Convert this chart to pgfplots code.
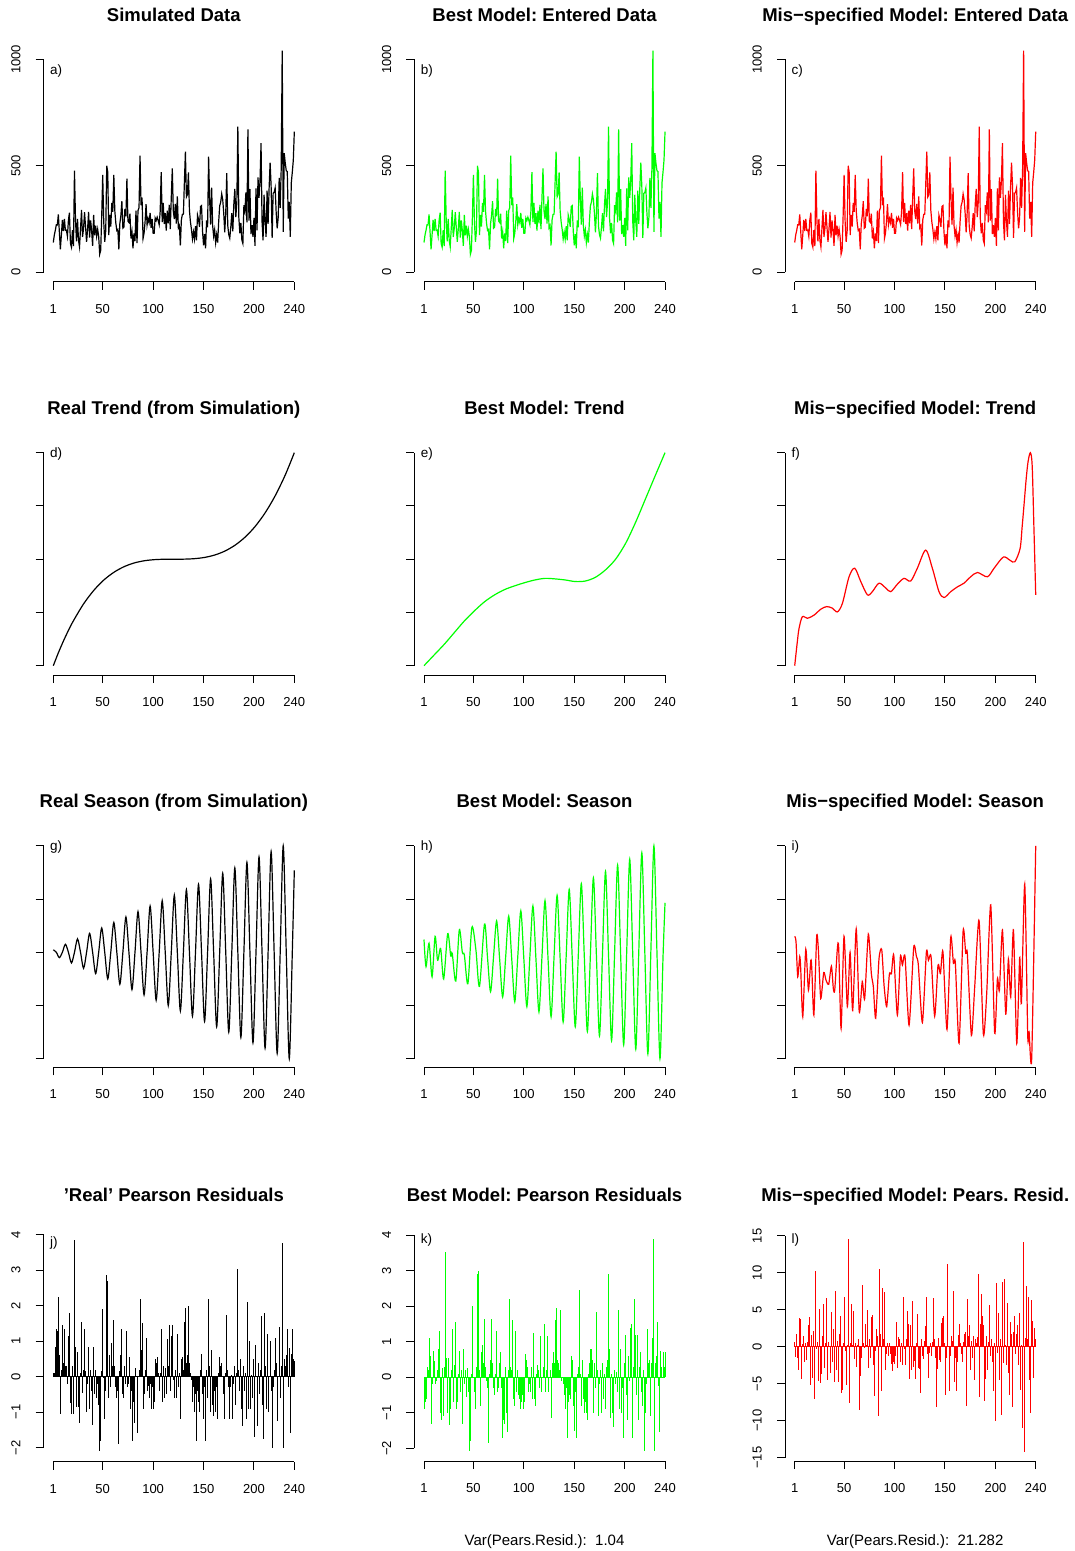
\documentclass[border=0pt]{standalone}
\usepackage{fontspec}
\setmainfont{Liberation Sans}
\usepackage{pgfplots}
\usepackage{pgfplotstable}
\pgfplotsset{compat=1.18}
\frenchspacing

\definecolor{fitgreen}{RGB}{0,255,0}
\definecolor{fitred}{RGB}{255,0,0}

% monthly counts (y) and Pearson residuals: true model (rj), best fit (rk), mis-specified fit (rl)
\pgfplotstableread{
t y rj rk rl
1 140 0.10 -0.90 0.7
2 175 0.10 -0.70 -1.4
3 197 0.85 -0.60 1.7
4 223 1.35 0.30 -1.5
5 222 1.30 0.20 -3.2
6 272 2.25 1.10 3.9
7 190 0.60 0.60 3.8
8 108 -1.05 -1.30 -4.3
9 175 0.20 -0.20 0.4
10 246 1.45 0.75 1.5
11 194 0.40 0.45 -2.0
12 251 1.35 -0.20 0.5
13 197 0.30 -0.10 -1.8
14 198 0.30 0.20 0.7
15 169 -0.20 0.80 2.9
16 245 1.15 1.30 4.0
17 280 1.80 -1.00 -5.1
18 135 -0.75 -1.20 1.6
19 118 -1.05 0.25 -4.2
20 198 0.30 -1.10 2.1
21 123 -1.05 0.30 -7.1
22 477 3.87 3.52 10.3
23 248 0.85 0.55 -0.3
24 145 -0.85 -1.00 0.6
25 251 0.70 0.55 -4.6
26 150 -0.85 -1.35 5.1
27 119 -1.30 -0.90 -4.9
28 206 0.10 0.20 -3.7
29 293 1.55 1.35 1.5
30 166 -0.45 -0.70 5.8
31 206 0.20 0.35 -2.8
32 282 1.35 1.55 0.5
33 212 0.15 -0.90 6.6
34 143 -1.00 -0.70 -4.5
35 203 -0.20 0.10 0.7
36 283 0.85 0.75 -3.6
37 163 -0.90 -0.40 4.7
38 244 0.20 0.20 -2.0
39 196 -0.40 -1.30 2.4
40 124 -1.35 0.80 -4.7
41 270 0.85 -0.20 7.5
42 174 -0.50 0.20 -3.2
43 219 0.20 -0.55 0.8
44 169 -0.60 0.25 -4.7
45 202 -0.20 -0.40 1.7
46 168 -0.80 -2.08 4.2
47 85 -2.10 -1.80 -6.2
48 103 -1.80 0.10 -5.9
49 262 0.15 2.00 0.5
50 457 1.92 0.00 6.8
51 238 -0.05 -0.40 -0.6
52 143 -1.20 -0.90 -5.1
53 194 -0.40 0.30 0.3
54 500 2.87 2.90 14.6
55 470 2.70 3.00 -7.6
56 175 -0.60 0.20 0.5
57 269 0.60 -0.80 5.8
58 215 -0.30 0.70 0.2
59 326 0.95 0.90 4.8
60 284 0.30 0.40 -1.7
61 457 1.60 1.65 0.5
62 289 0.30 0.30 -2.7
63 231 -0.30 -0.10 0.2
64 196 -0.60 -0.30 1.0
65 201 -0.40 -1.85 -8.6
66 108 -1.90 0.10 -4.0
67 229 0.15 0.50 -1.5
68 266 0.60 1.65 8.4
69 334 1.35 0.40 0.5
70 207 -0.50 -0.30 -0.2
71 212 -0.60 -0.50 3.1
72 298 0.30 0.10 0.2
73 263 -0.20 1.30 5.0
74 440 1.30 -0.40 -2.8
75 240 -0.30 -0.30 1.0
76 234 -0.20 0.40 -1.5
77 275 0.55 0.70 4.0
78 159 -0.90 -0.30 4.3
79 191 -0.40 -1.70 -2.5
80 113 -1.80 -1.20 -6.7
81 183 -0.70 -1.30 -0.5
82 147 -1.30 0.30 2.4
83 290 0.25 -1.00 1.5
84 137 -1.60 -1.55 -9.4
85 290 0.00 0.20 10.5
86 303 0.20 2.20 1.7
87 548 2.20 0.30 -6.0
88 315 0.75 0.20 8.0
89 351 1.52 1.60 1.0
90 159 -0.90 -0.60 7.4
91 183 -0.50 -0.80 -3.1
92 237 0.20 1.30 -1.0
93 320 1.10 -0.40 0.5
94 223 -0.40 0.20 -1.2
95 252 -0.25 -0.50 0.5
96 233 -0.60 -0.60 -1.0
97 279 -0.20 -0.90 -2.3
98 209 -0.90 -0.70 -3.3
99 251 -0.30 -0.50 -2.0
100 183 -0.90 -0.90 -2.3
101 183 -0.70 -0.70 -1.3
102 255 0.50 0.65 3.3
103 243 0.40 0.50 -2.8
104 259 0.55 0.30 1.3
105 243 0.10 -0.40 1.1
106 224 -0.40 -0.20 -2.1
107 287 0.10 -0.40 0.5
108 470 1.35 0.30 -2.5
109 236 -0.70 -0.60 6.7
110 326 0.30 1.25 -0.3
111 227 -0.60 -0.60 -2.5
112 278 0.25 -0.80 1.0
113 196 -0.50 0.10 4.8
114 289 1.05 0.35 3.1
115 230 0.30 0.20 -4.4
116 317 1.45 -0.30 3.0
117 203 -0.40 1.15 -3.1
118 352 1.15 -0.40 6.2
119 488 1.45 0.30 -2.7
120 288 -0.10 1.50 -1.9
121 250 -0.60 -0.40 -4.3
122 321 0.20 0.20 0.5
123 229 -0.60 1.15 4.5
124 356 1.20 -0.40 -2.8
125 209 -0.30 0.00 -3.0
126 219 0.10 0.20 -6.2
127 126 -1.20 -1.15 1.0
128 246 0.50 0.40 -1.2
129 272 0.55 0.70 -1.7
130 273 0.20 0.40 0.8
131 423 1.55 1.60 2.8
132 566 1.95 1.95 6.8
133 354 0.40 0.50 -1.0
134 365 0.60 0.40 -4.2
135 469 2.00 0.20 -0.8
136 290 0.40 1.90 0.5
137 236 0.10 -0.10 -1.2
138 202 -0.10 0.00 0.7
139 156 -0.70 -0.20 6.6
140 189 -0.30 -0.50 1.0
141 156 -1.00 -0.90 -1.5
142 217 -0.50 -0.30 -8.2
143 150 -1.80 -1.70 -3.0
144 269 -0.40 -0.70 1.2
145 249 -0.70 -0.50 -1.8
146 213 -1.00 -0.60 -2.1
147 309 0.20 0.60 3.2
148 313 0.65 0.50 3.9
149 192 -0.50 -0.80 4.2
150 127 -1.20 -1.50 0.5
151 179 -0.30 -0.40 -6.5
152 113 -1.80 -1.70 -1.5
153 244 0.20 0.10 11.2
154 211 -0.60 0.30 -6.0
155 543 2.20 2.45 -1.3
156 346 0.30 0.10 1.5
157 224 -1.00 -0.80 0.8
158 398 0.75 0.50 7.5
159 220 -0.80 -0.60 -4.8
160 170 -1.10 -1.00 -1.5
161 200 -0.40 -0.70 -6.0
162 139 -1.00 -1.00 -2.1
163 177 -0.30 -1.20 1.6
164 140 -1.20 0.10 3.1
165 238 0.10 0.40 0.5
166 312 0.55 0.80 -1.0
167 329 0.30 0.80 -2.0
168 368 0.40 0.50 0.6
169 341 0.00 -1.00 1.8
170 278 -0.50 0.40 2.0
171 188 -1.20 -0.30 -8.0
172 278 0.10 1.85 6.5
173 465 1.75 0.20 1.5
174 219 0.20 -1.10 3.0
175 177 -0.30 -0.20 -3.1
176 160 -1.20 0.20 0.8
177 212 -0.30 -1.00 -1.5
178 278 0.05 0.40 1.5
179 192 -1.20 -0.60 -4.5
180 319 -0.20 0.10 1.0
181 391 0.30 -0.90 0.5
182 259 -0.80 0.30 1.3
183 329 0.10 0.50 9.8
184 684 3.05 2.90 -6.8
185 255 0.20 0.80 3.1
186 183 -0.40 -1.15 7.1
187 232 0.50 0.10 4.2
188 151 -0.90 -1.00 3.0
189 135 -1.40 -1.40 -7.3
190 315 0.30 0.20 -4.3
191 288 -0.40 -0.20 1.5
192 375 0.10 0.15 -3.2
193 235 -1.20 -0.40 0.7
194 671 2.10 1.90 5.7
195 243 -0.90 -0.90 -1.2
196 391 1.00 0.80 1.0
197 179 -0.90 -1.00 -2.0
198 221 0.05 -0.30 -6.0
199 167 -0.60 -1.70 0.5
200 255 0.50 0.40 -10.0
201 124 -1.70 1.20 8.6
202 394 0.90 -0.50 -0.8
203 197 -1.40 -1.20 4.6
204 446 0.40 0.60 -4.5
205 350 -0.50 -0.10 1.0
206 431 0.20 1.40 -9.2
207 606 1.70 1.50 8.8
208 238 -0.80 -1.70 -2.2
209 150 -1.75 0.30 9.2
210 364 1.80 2.20 0.3
211 239 0.30 1.20 -2.5
212 167 -0.90 -0.50 5.9
213 383 1.20 1.20 -3.5
214 228 -1.00 -1.20 -6.5
215 394 0.00 0.30 3.3
216 515 1.00 0.70 1.8
217 405 -0.40 -0.40 -8.2
218 162 -2.00 -0.80 2.0
219 371 -0.30 0.20 4.2
220 375 0.20 -2.08 -1.0
221 396 1.10 -1.00 1.8
222 282 0.40 -0.20 3.0
223 206 -1.25 1.35 -2.5
224 256 0.00 0.40 4.6
225 443 1.40 0.50 -5.8
226 303 -0.60 -1.10 0.3
227 488 0.30 0.40 -11.0
228 1041 3.77 1.10 14.2
229 190 -2.00 3.90 -14.2
230 559 0.50 -2.08 1.2
231 513 0.30 0.40 8.3
232 477 0.60 0.60 1.0
233 473 1.35 1.55 6.7
234 252 -0.30 -0.25 -4.5
235 330 0.80 -1.55 -9.0
236 167 -1.60 0.75 6.3
237 420 0.65 0.30 3.5
238 470 1.35 0.70 -4.2
239 527 0.50 0.30 2.6
240 660 0.45 0.70 1.1
}\obs

% trend and season components, scaled so that each runs over ticks 0..4
\pgfplotstableread{
t u
1 0
6 0.241
11 0.461
16 0.663
21 0.845
31 1.160
41 1.411
51 1.607
61 1.753
71 1.858
81 1.928
91 1.970
101 1.991
111 1.999
121 2.000
131 2.001
141 2.010
151 2.033
161 2.078
171 2.151
181 2.260
191 2.411
201 2.611
211 2.869
221 3.190
231 3.581
240 4.000
}\trendreal

\pgfplotstableread{
t u
1 0
11 0.20
21 0.40
31 0.62
41 0.84
51 1.03
61 1.20
71 1.33
81 1.43
91 1.50
101 1.56
111 1.61
121 1.64
131 1.63
141 1.61
151 1.58
161 1.59
171 1.66
181 1.80
191 2.00
201 2.30
211 2.70
221 3.15
231 3.60
240 4.00
}\trendbest

\pgfplotstableread{
t u
1 0
3.6 0.45
5.3 0.70
8.6 0.92
13.6 0.89
20.2 0.95
26.8 1.06
32.7 1.11
38.4 1.08
43.3 1.01
48.3 1.17
54.9 1.67
60.5 1.83
66.5 1.58
73.1 1.33
78 1.39
84.6 1.55
91.2 1.46
96.2 1.39
102.8 1.53
109.4 1.64
116 1.59
122.6 1.83
130.9 2.17
137.5 1.83
144.1 1.39
149.1 1.28
155.7 1.39
162.3 1.48
168.9 1.55
175.5 1.67
182.2 1.75
192.1 1.67
198.7 1.83
207.9 2.04
214.5 1.98
219.2 1.95
224.5 2.20
226.5 2.60
228.4 3.02
230.5 3.50
232.4 3.83
234.7 4.00
236.5 3.75
238.2 2.60
240 1.33
}\trendmis

\pgfplotstableread{
t u
1 2.047
4 2
7 1.9
10 2
13 2.150
16 2
19 1.8
22 2
25 2.252
28 2
31 1.7
34 2
37 2.355
40 2
43 1.6
46 2
49 2.457
52 2
55 1.5
58 2
61 2.560
64 2
67 1.4
70 2
73 2.663
76 2
79 1.3
82 2
85 2.765
88 2
91 1.2
94 2
97 2.868
100 2
103 1.1
106 2
109 2.970
112 2
115 1.0
118 2
121 3.073
124 2
127 0.9
130 2
133 3.176
136 2
139 0.8
142 2
145 3.278
148 2
151 0.7
154 2
157 3.381
160 2
163 0.6
166 2
169 3.483
172 2
175 0.5
178 2
181 3.586
184 2
187 0.4
190 2
193 3.689
196 2
199 0.3
202 2
205 3.791
208 2
211 0.2
214 2
217 3.894
220 2
223 0.1
226 2
229 4.000
232 2
235 0.0
238 2
240 3.54
}\seasonreal

\pgfplotstableread{
t u
1 2.24
3 1.73
6 2.17
9 1.54
12 2.30
14.5 1.85
17.5 2.07
20.5 1.50
24.5 2.35
27.5 1.93
29 1.98
32.5 1.46
36 2.42
39 2.00
41 1.95
44.5 1.41
48.5 2.47
52.5 2.04
56 1.36
61 2.53
64 1.895
67 1.26
70 1.925
73 2.59
76 1.875
79 1.16
82 1.92
85 2.68
88 1.875
91 1.07
94 1.925
97 2.78
100 1.88
103 0.98
106 1.925
109 2.87
112 1.875
115 0.88
118 1.925
121 2.97
124 1.88
127 0.79
130 1.93
133 3.07
136 1.88
139 0.69
142 1.935
145 3.18
148 1.89
151 0.60
154 1.945
157 3.29
160 1.90
163 0.51
166 1.955
169 3.40
172 1.915
175 0.43
178 1.975
181 3.52
184 1.93
187 0.34
190 1.99
193 3.64
196 1.95
199 0.26
202 2.005
205 3.75
208 1.965
211 0.18
214 2.025
217 3.87
220 1.98
223 0.09
226 2.045
229 4.00
232 2.00
235 0.00
238 1.90
240 2.93
}\seasonbest

\pgfplotstableread{
t u
1 2.30
2.3 2.20
4 1.54
6 1.92
7 1.67
9 0.79
12 2.06
14.6 1.29
17 1.85
18 1.67
20 0.82
22.8 2.30
24.5 2.04
26.8 1.13
29.8 1.62
32 1.48
34.7 1.40
37.4 1.74
39.3 1.32
40.7 1.29
43.3 2.07
44.6 2.09
47 0.57
49.9 2.30
53.2 0.98
55.9 2.00
58.5 0.91
62 2.44
65 0.88
68 1.45
70.4 1.13
74 2.34
77 1.60
79 1.35
81.3 0.76
84.6 1.88
87.3 2.05
89.6 1.38
92.2 0.98
94.9 1.59
96.9 1.60
99.2 1.95
102.8 0.82
105.8 1.92
107.8 1.76
110.4 1.92
114.4 0.63
119 2.09
121.7 1.92
123.6 1.76
127.6 0.68
131.6 2.01
133.6 1.85
136.2 1.92
139.8 0.80
143.1 1.76
145.5 1.60
148 2.01
152 0.55
155.7 2.28
158.4 1.79
160.3 1.80
164 0.29
168 2.40
170.6 1.98
172.2 1.97
176.2 0.44
179.5 1.35
183.8 2.60
188.1 0.46
191.4 1.23
195.4 2.89
199.3 0.48
202 1.50
204 1.29
207 2.42
210.3 0.84
212.9 1.87
215.2 1.16
217.9 2.42
221.2 0.29
224.1 1.90
225.8 1.04
229.1 3.28
232.1 0.43
233.4 0.51
236 0.00
240 4.00
}\seasonmis

\pgfplotsset{
  panel/.style={
    scale only axis, width=260.3pt, anchor=south west,
    xmin=-8.56, xmax=249.56,
    axis x line*=bottom, axis y line*=left,
    axis line style={draw=none},
    tick align=outside, major tick length=8pt,
    tick style={black, line width=1pt},
    xtick={1,50,100,150,200,240},
    xticklabels={1,50,100,150,200,240},
    tick label style={font=\fontsize{13}{15}\selectfont, black},
    xticklabel style={anchor=north, inner sep=0pt, text height=9.4pt, text depth=0pt, yshift=-13.9pt},
    yticklabel style={rotate=90, anchor=south, inner sep=0pt, yshift=15pt},
    clip=false,
  },
  nolabels/.style={ytick={0,1,2,3,4}, yticklabels={,,,,}},
}
\tikzset{
  axisline/.style={black, line width=1pt},
  series/.style={line width=1.2pt},
  tag/.style={anchor=west, inner sep=0pt, font=\fontsize{13.5}{16}\selectfont},
  heading/.style={anchor=base, font=\fontsize{18.5}{22}\selectfont\bfseries},
  footnote/.style={anchor=base, font=\fontsize{15}{18}\selectfont},
}

\begin{document}
\begin{tikzpicture}
\path[use as bounding box] (0pt,0pt) rectangle (1075pt,-1551pt);

% ---------------- row 1: entered data ----------------
\node[heading] at (173.81pt,-21.5pt) {Simulated Data};
\node[heading] at (544.51pt,-21.5pt) {Best Model: Entered Data};
\node[heading] at (915.21pt,-21.5pt) {Mis−specified Model: Entered Data};

\begin{axis}[panel, at={(43.66pt,-281.7pt)}, height=241.6pt,
  ymin=-44.1, ymax=1090, ytick={0,500,1000}, yticklabels={0,500,1000}]
\addplot[black, series] table[x=t, y=y] {\obs};
\draw[axisline] (axis cs:1,-44.1) -- (axis cs:240,-44.1);
\draw[axisline] (axis cs:-8.56,0) -- (axis cs:-8.56,1000);
\node[tag] at (axis cs:-2.3,945) {a)};
\end{axis}

\begin{axis}[panel, at={(414.36pt,-281.7pt)}, height=241.6pt,
  ymin=-44.1, ymax=1090, ytick={0,500,1000}, yticklabels={0,500,1000}]
\addplot[fitgreen, series] table[x=t, y=y] {\obs};
\draw[axisline] (axis cs:1,-44.1) -- (axis cs:240,-44.1);
\draw[axisline] (axis cs:-8.56,0) -- (axis cs:-8.56,1000);
\node[tag] at (axis cs:-2.3,945) {b)};
\end{axis}

\begin{axis}[panel, at={(785.06pt,-281.7pt)}, height=241.6pt,
  ymin=-44.1, ymax=1090, ytick={0,500,1000}, yticklabels={0,500,1000}]
\addplot[fitred, series] table[x=t, y=y] {\obs};
\draw[axisline] (axis cs:1,-44.1) -- (axis cs:240,-44.1);
\draw[axisline] (axis cs:-8.56,0) -- (axis cs:-8.56,1000);
\node[tag] at (axis cs:-2.3,945) {c)};
\end{axis}

% ---------------- row 2: trend ----------------
\node[heading] at (173.81pt,-414.8pt) {Real Trend (from Simulation)};
\node[heading] at (544.51pt,-414.8pt) {Best Model: Trend};
\node[heading] at (915.21pt,-414.8pt) {Mis−specified Model: Trend};

\begin{axis}[panel, nolabels, at={(43.66pt,-675pt)}, height=231.64pt,
  ymin=-0.175, ymax=4.175]
\addplot[black, series, smooth] table[x=t, y=u] {\trendreal};
\draw[axisline] (axis cs:1,-0.175) -- (axis cs:240,-0.175);
\draw[axisline] (axis cs:-8.56,0) -- (axis cs:-8.56,4);
\node[tag] at (axis cs:-2.3,3.966) {d)};
\end{axis}

\begin{axis}[panel, nolabels, at={(414.36pt,-675pt)}, height=231.64pt,
  ymin=-0.175, ymax=4.175]
\addplot[fitgreen, series, smooth] table[x=t, y=u] {\trendbest};
\draw[axisline] (axis cs:1,-0.175) -- (axis cs:240,-0.175);
\draw[axisline] (axis cs:-8.56,0) -- (axis cs:-8.56,4);
\node[tag] at (axis cs:-2.3,3.966) {e)};
\end{axis}

\begin{axis}[panel, nolabels, at={(785.06pt,-675pt)}, height=231.64pt,
  ymin=-0.175, ymax=4.175]
\addplot[fitred, series, smooth, tension=0.5] table[x=t, y=u] {\trendmis};
\draw[axisline] (axis cs:1,-0.175) -- (axis cs:240,-0.175);
\draw[axisline] (axis cs:-8.56,0) -- (axis cs:-8.56,4);
\node[tag] at (axis cs:-2.3,3.966) {f)};
\end{axis}

% ---------------- row 3: season ----------------
\node[heading] at (173.81pt,-807.1pt) {Real Season (from Simulation)};
\node[heading] at (544.51pt,-807.1pt) {Best Model: Season};
\node[heading] at (915.21pt,-807.1pt) {Mis−specified Model: Season};

\begin{axis}[panel, nolabels, at={(43.66pt,-1067.3pt)}, height=230.04pt,
  ymin=-0.16, ymax=4.16]
\addplot[black, series, smooth] table[x=t, y=u] {\seasonreal};
\draw[axisline] (axis cs:1,-0.16) -- (axis cs:240,-0.16);
\draw[axisline] (axis cs:-8.56,0) -- (axis cs:-8.56,4);
\node[tag] at (axis cs:-2.3,3.976) {g)};
\end{axis}

\begin{axis}[panel, nolabels, at={(414.36pt,-1067.3pt)}, height=230.04pt,
  ymin=-0.16, ymax=4.16]
\addplot[fitgreen, series, smooth] table[x=t, y=u] {\seasonbest};
\draw[axisline] (axis cs:1,-0.16) -- (axis cs:240,-0.16);
\draw[axisline] (axis cs:-8.56,0) -- (axis cs:-8.56,4);
\node[tag] at (axis cs:-2.3,3.976) {h)};
\end{axis}

\begin{axis}[panel, nolabels, at={(785.06pt,-1067.3pt)}, height=230.04pt,
  ymin=-0.16, ymax=4.16]
\addplot[fitred, series, smooth, tension=0.4] table[x=t, y=u] {\seasonmis};
\draw[axisline] (axis cs:1,-0.16) -- (axis cs:240,-0.16);
\draw[axisline] (axis cs:-8.56,0) -- (axis cs:-8.56,4);
\node[tag] at (axis cs:-2.3,3.976) {i)};
\end{axis}

% ---------------- row 4: Pearson residuals ----------------
\node[heading] at (173.81pt,-1201.3pt) {'Real' Pearson Residuals};
\node[heading] at (544.51pt,-1201.3pt) {Best Model: Pearson Residuals};
\node[heading] at (915.21pt,-1201.3pt) {Mis−specified Model: Pears. Resid.};

\begin{axis}[panel, at={(43.66pt,-1461.7pt)}, height=235.67pt,
  ymin=-2.398, ymax=4.25, ytick={-2,-1,0,1,2,3,4},
  yticklabels={−2,−1,0,1,2,3,4}]
\addplot[black, line width=1pt, ycomb] table[x=t, y=rj] {\obs};
\addplot[black, line width=1pt] coordinates {(1,0) (240,0)};
\draw[axisline] (axis cs:1,-2.398) -- (axis cs:240,-2.398);
\draw[axisline] (axis cs:-8.56,-2) -- (axis cs:-8.56,4);
\node[tag] at (axis cs:-2.3,3.77) {j)};
\end{axis}

\begin{axis}[panel, at={(414.36pt,-1461pt)}, height=234.87pt,
  ymin=-2.353, ymax=4.25, ytick={-2,-1,0,1,2,3,4},
  yticklabels={−2,−1,0,1,2,3,4}]
\addplot[fitgreen, line width=1pt, ycomb] table[x=t, y=rk] {\obs};
\addplot[fitgreen, line width=1pt] coordinates {(1,0) (240,0)};
\draw[axisline] (axis cs:1,-2.353) -- (axis cs:240,-2.353);
\draw[axisline] (axis cs:-8.56,-2) -- (axis cs:-8.56,4);
\node[tag] at (axis cs:-2.3,3.86) {k)};
\end{axis}

\begin{axis}[panel, at={(785.06pt,-1461pt)}, height=228.72pt,
  ymin=-15.45, ymax=15.5, ytick={-15,-10,-5,0,5,10,15},
  yticklabels={−15,−10,−5,0,5,10,15}]
\addplot[fitred, line width=1pt, ycomb] table[x=t, y=rl] {\obs};
\addplot[fitred, line width=1pt] coordinates {(1,0) (240,0)};
\draw[axisline] (axis cs:1,-15.45) -- (axis cs:240,-15.45);
\draw[axisline] (axis cs:-8.56,-15) -- (axis cs:-8.56,15);
\node[tag] at (axis cs:-2.3,14.46) {l)};
\end{axis}

\node[footnote] at (544.51pt,-1545pt) {Var(Pears.Resid.):\ \ 1.04};
\node[footnote] at (915.21pt,-1545pt) {Var(Pears.Resid.):\ \ 21.282};
\end{tikzpicture}
\end{document}
